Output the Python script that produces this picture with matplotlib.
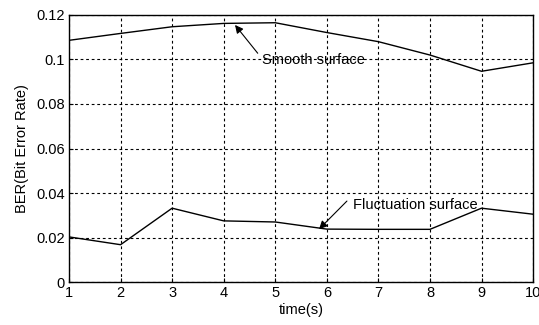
import matplotlib
matplotlib.use("Agg")
import matplotlib.pyplot as plt

plt.rcParams['font.family'] = ['Liberation Sans', 'DejaVu Sans']

time_s = [1, 2, 3, 4, 5, 6, 7, 8, 9, 10]
smooth = [0.1086, 0.1117, 0.1147, 0.1162, 0.1165, 0.1121, 0.108, 0.102, 0.0947, 0.0985]
fluct = [0.0203, 0.0168, 0.0332, 0.0275, 0.0270, 0.0238, 0.0237, 0.0237, 0.0332, 0.0305]
yticks = [0, 0.02, 0.04, 0.06, 0.08, 0.1, 0.12]
ytick_labels = ['0', '0.02', '0.04', '0.06', '0.08', '0.1', '0.12']

fig = plt.figure(figsize=(5.39, 3.25), dpi=100)
ax = fig.add_axes([0.128, 0.132, 0.861, 0.822])
ax.plot(time_s, smooth, color='black', lw=1.0)
ax.plot(time_s, fluct, color='black', lw=1.0)
ax.set_xlim(1, 10)
ax.set_ylim(0, 0.12)
ax.set_xticks(time_s)
ax.set_yticks(yticks)
ax.set_yticklabels(ytick_labels)
ax.grid(True, color='black', linestyle=(0, (2.5, 2.5)), lw=0.8)
ax.tick_params(direction='in', length=3, labelsize=10.5, color='black', pad=3)
for s in ax.spines.values():
    s.set_linewidth(1.0)
ax.set_xlabel('time(s)', fontsize=10.5, labelpad=2)
ax.set_ylabel('BER(Bit Error Rate)', fontsize=10.5, labelpad=5)

arrow = dict(arrowstyle='-|>', color='black', lw=0.8, mutation_scale=12,
             shrinkA=0, shrinkB=0)
ax.text(4.74, 0.0997, 'Smooth surface', fontsize=10.5, va='center', ha='left')
ax.annotate('', xy=(4.22, 0.1155), xytext=(4.66, 0.1028), arrowprops=arrow)
ax.text(6.5, 0.0346, 'Fluctuation surface', fontsize=10.5, va='center', ha='left')
ax.annotate('', xy=(5.85, 0.0238), xytext=(6.39, 0.0364), arrowprops=arrow)

fig.savefig('out.png', dpi=100)
